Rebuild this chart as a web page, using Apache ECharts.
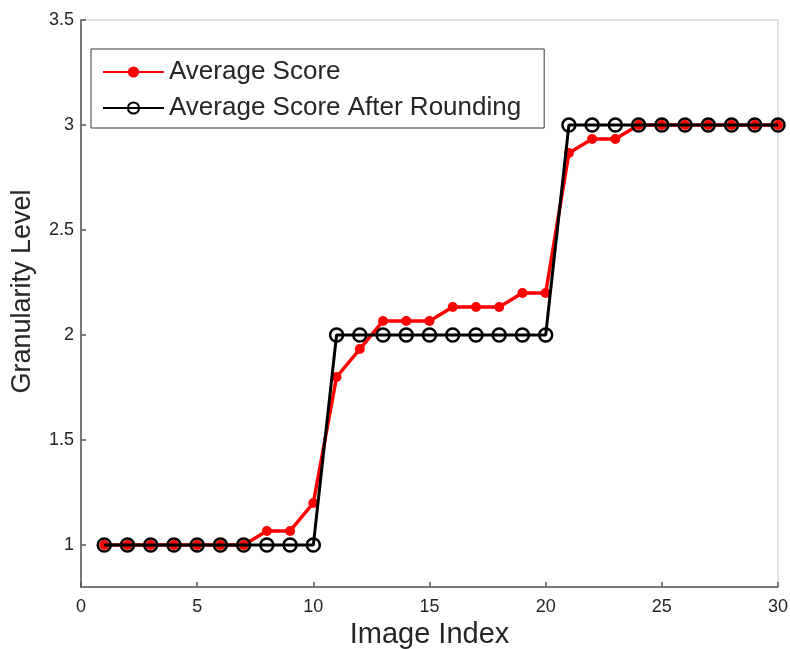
<!DOCTYPE html>
<html>
<head>
<meta charset="utf-8">
<style>
  html, body { margin: 0; padding: 0; background: #fff; }
  #chart { width: 790px; height: 649px; }
</style>
<script src="https://cdn.jsdelivr.net/npm/echarts@6/dist/echarts.min.js"></script>
</head>
<body>
<div id="chart"></div>
<script>
// Image indices 1..30
const imageIndex = [1,2,3,4,5,6,7,8,9,10,11,12,13,14,15,16,17,18,19,20,21,22,23,24,25,26,27,28,29,30];
// Mean granularity score per image
const averageScore = [1,1,1,1,1,1,1,1.067,1.067,1.2,1.8,1.933,2.067,2.067,2.067,2.133,2.133,2.133,2.2,2.2,2.867,2.933,2.933,3,3,3,3,3,3,3];
// Mean score rounded to the nearest level
const roundedScore = [1,1,1,1,1,1,1,1,1,1,2,2,2,2,2,2,2,2,2,2,3,3,3,3,3,3,3,3,3,3];
// Y tick positions
const yTicks = [1, 1.5, 2, 2.5, 3, 3.5];

const pairs = (ys) => imageIndex.map((x, i) => [x, ys[i]]);
const font = 'Liberation Sans, Arial, Helvetica, sans-serif';
const txt = '#262626';

const chart = echarts.init(document.getElementById('chart'), null, { renderer: 'canvas' });
chart.setOption({
  animation: false,
  backgroundColor: '#ffffff',
  grid: {
    left: 81, right: 12, top: 20, bottom: 62,
    outerBoundsMode: 'none',
    show: true, borderColor: '#c8c8c8', borderWidth: 1
  },
  legend: {
    orient: 'vertical',
    left: 91, top: 49,
    padding: [10, 23, 7, 11],
    itemGap: 10,
    itemWidth: 61, itemHeight: 14,
    borderColor: '#3a3a3a', borderWidth: 1,
    backgroundColor: '#ffffff',
    textStyle: { fontFamily: font, fontSize: 26, color: txt, lineHeight: 26 },
    data: ['Average Score', 'Average Score After Rounding']
  },
  xAxis: {
    type: 'value', min: 0, max: 30, interval: 5,
    name: 'Image Index', nameLocation: 'middle', nameGap: 33,
    nameTextStyle: { fontFamily: font, fontSize: 29, color: txt },
    axisLine: { lineStyle: { color: '#555', width: 1.5 } },
    axisTick: { inside: true, length: 5, lineStyle: { color: '#555', width: 1.5 } },
    axisLabel: { fontFamily: font, fontSize: 18, color: txt, margin: 11 },
    splitLine: { show: false }
  },
  yAxis: {
    type: 'value', min: 0.8, max: 3.5,
    name: 'Granularity Level', nameLocation: 'middle', nameGap: 45,
    nameTextStyle: { fontFamily: font, fontSize: 27, color: txt, padding: [0, 0, 0, 24] },
    axisLine: { show: true, lineStyle: { color: '#555', width: 1.5 } },
    axisTick: { show: true, inside: true, length: 5, customValues: yTicks, lineStyle: { color: '#555', width: 1.5 } },
    axisLabel: { fontFamily: font, fontSize: 18, color: txt, margin: 7, customValues: yTicks },
    splitLine: { show: false }
  },
  series: [
    {
      name: 'Average Score',
      type: 'line',
      data: pairs(averageScore),
      symbol: 'circle', symbolSize: 10,
      itemStyle: { color: '#ff0000' },
      lineStyle: { color: '#ff0000', width: 3.5 },
      z: 2
    },
    {
      name: 'Average Score After Rounding',
      type: 'line',
      data: pairs(roundedScore),
      symbol: 'circle', symbolSize: 13,
      itemStyle: { color: 'rgba(0,0,0,0)', borderColor: '#000', borderWidth: 2.5 },
      lineStyle: { color: '#000', width: 3 },
      z: 3
    }
  ]
});
</script>
</body>
</html>
